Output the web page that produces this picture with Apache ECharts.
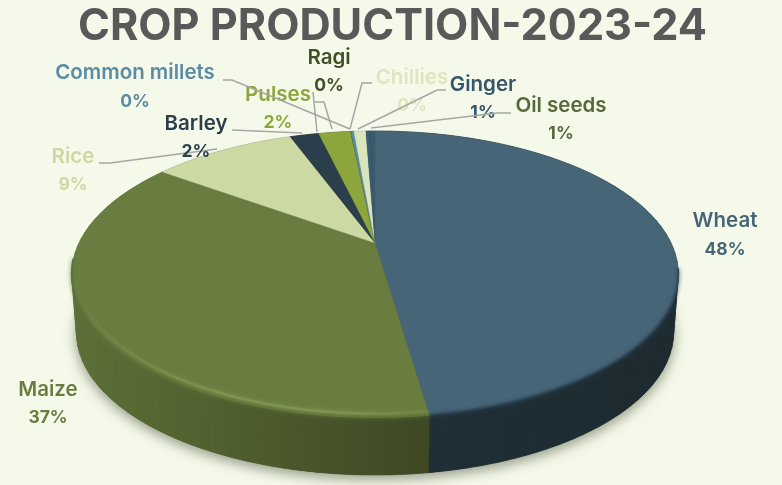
<!DOCTYPE html>
<html><head><meta charset="utf-8">
<style>html,body{margin:0;padding:0;background:#f5f9e9}#c{width:782px;height:485px}</style>
<script src="https://cdn.jsdelivr.net/npm/echarts@6/dist/echarts.min.js"></script>
</head><body><div id="c"></div>
<script>
// Data
const categories = ['Wheat','Maize','Rice','Barley','Pulses','Ragi','Common millets','Chillies','Ginger','Oil seeds'];
const values     = [47.7, 37.3, 9.4, 1.9, 2.1, 0.02, 0.2, 0.78, 0.3, 0.3];
const percentLabels = ['48%','37%','9%','2%','2%','0%','0%','0%','1%','1%'];
// Styles
const faceColors = ['#466577','#6a7d41','#cdd9a2','#2a3f4b','#8ca63c','#434f28','#5b8ba5','#dbe5bd','#3a5a6e','#3a5a6e'];
const textColors = ['#466577','#6a7d41','#cdd9a2','#2a3f4b','#8ca63c','#434f28','#5b8ba5','#dde6bf','#35566b','#56693a'];
const wallLeft   = ['#1f3038','#5d7037','#888','#222','#555','#333','#345','#999','#234','#234'];
const wallRight  = ['#1d2a30','#3e4823','#888','#222','#555','#333','#345','#999','#234','#234'];
const edgeColors = ['#30495a','#5f7239'];
// Label layout: [name x, name y, pct x, pct y]
const labelPos = [[725,221,725,250],[48,390,48,418],[73,157,73,185],[196,124,196,152],[278,95,278,123],
  [329,58,329,86],[135,73,135,102],[412,78,412,106],[483,85,483,113],[561,106,561,134]];
// Leader lines of the labels
const leaders = [null,null,[[99,163],[110,163],[217,149]],[[232,130],[302,133]],[[313,92],[317,132]],
  [[315,102],[324,102],[332,129]],[[223,80],[232,80],[350,129]],[[372,83],[362,83],[350,129]],
  [[446,90],[437,90],[358,129]],[[511,113],[497,113],[371,128]]];

// Tilted-disc projection (perspective, pie apex above the ellipse centre)
const APEX_X=375, APEX_Y=243, K=-0.2168, A=136.3, B=296, DEPTH=58, SHRINK=0.985;
const total = values.reduce((a,b)=>a+b,0);
const starts=[]; values.reduce((s,v,i)=>{starts[i]=s;return s+v;},0);
function topPt(t){const u=Math.sin(t),v=-Math.cos(t),d=1+K*v;return [APEX_X+B*u/d,APEX_Y+A*v/d];}
function lowPt(t){const p=topPt(t);return [APEX_X+(p[0]-APEX_X)*SHRINK,p[1]+DEPTH];}
function arc(a,b,fn){const n=Math.max(2,Math.ceil((b-a)/0.01));const r=[];for(let i=0;i<=n;i++)r.push(fn(a+(b-a)*i/n));return r;}
function ang(s){return s/total*Math.PI*2;}

const wallSeries={type:'custom',coordinateSystem:'none',silent:true,z:1,
  data:values.map(v=>[v]),
  renderItem(params,api){
    const i=params.dataIndex,a=ang(starts[i]),b=a+ang(api.value(0));
    const tops=arc(a,b,topPt),lows=arc(a,b,lowPt);
    const xs=tops.map(p=>p[0]),x0=Math.min(...xs),x1=Math.max(...xs);
    const fill={type:'linear',global:true,x:x0,y:0,x2:Math.max(x1,x0+1),y2:0,
      colorStops:[{offset:0,color:wallLeft[i]},{offset:1,color:wallRight[i]}]};
    const children=[];
    const step=5;
    for(let j=0;j<tops.length-1;j+=step){
      const e=Math.min(j+step,tops.length-1);
      children.push({type:'polygon',shape:{points:[tops[j],tops[e],lows[e],lows[j]]},
        style:{fill:fill,stroke:fill,lineWidth:0.6}});
    }
    return {type:'group',children:children};
  }};
const shadowSeries={type:'custom',coordinateSystem:'none',silent:true,z:0,
  data:[[total]],
  renderItem(params,api){
    return {type:'polygon',shape:{points:arc(0,ang(api.value(0)),lowPt)},
      style:{fill:'#39422a',shadowBlur:13,shadowColor:'rgba(60,70,45,0.55)',shadowOffsetY:4,shadowOffsetX:0}};
  }};
const faceSeries={type:'custom',coordinateSystem:'none',silent:true,z:2,
  data:values.map(v=>[v]),
  renderItem(params,api){
    const i=params.dataIndex,a=ang(starts[i]),b=a+ang(api.value(0));
    const c=[{type:'polygon',shape:{points:[[APEX_X,APEX_Y]].concat(arc(a,b,topPt))},
      style:{fill:faceColors[i],stroke:faceColors[i],lineWidth:0.3}}];
    if(edgeColors[i]){
      const ra=Math.max(a,1.75),rb=Math.min(b,4.6);
      c.push({type:'polyline',shape:{points:arc(ra,rb,topPt)},
        style:{fill:null,stroke:edgeColors[i],lineWidth:2,shadowBlur:4,shadowColor:edgeColors[i]}});
      if(i===1){
        const inset=t=>{const p=topPt(t);return [APEX_X+(p[0]-APEX_X)*0.988,p[1]-3.5];};
        c.push({type:'polyline',shape:{points:arc(ra,rb,inset)},
          style:{fill:null,lineWidth:2.5,shadowBlur:5,shadowColor:'#7f9651',
            stroke:{type:'linear',x:1,y:0,x2:0,y2:0,colorStops:[
              {offset:0,color:'rgba(127,150,81,0.2)'},{offset:0.25,color:'rgba(127,150,81,0.9)'},
              {offset:0.6,color:'rgba(127,150,81,0.9)'},{offset:1,color:'rgba(127,150,81,0)'}]}}});
      }
    }
    return {type:'group',children:c};
  }};
const labelSeries={type:'custom',coordinateSystem:'none',silent:true,z:3,
  data:categories.map((n,i)=>[i]),
  renderItem(params){
    const i=params.dataIndex,p=labelPos[i],c=[];
    if(leaders[i])c.push({type:'polyline',shape:{points:leaders[i]},style:{fill:null,stroke:'#a6a6a6',lineWidth:1.5}});
    c.push({type:'text',x:p[0],y:p[1],style:{text:categories[i],fill:textColors[i],font:'600 20.5px Inter',align:'center',verticalAlign:'middle'}});
    c.push({type:'text',x:p[2],y:p[3],style:{text:percentLabels[i],fill:textColors[i],font:'700 17.5px Inter',align:'center',verticalAlign:'middle'}});
    return {type:'group',children:c};
  }};

const chart=echarts.init(document.getElementById('c'),null,{renderer:'canvas'});
chart.setOption({
  animation:false,backgroundColor:'#f5f9e9',
  title:{text:'CROP PRODUCTION-2023-24',left:73,top:-3,
    textStyle:{color:'#595959',fontFamily:'Inter',fontWeight:700,fontSize:43.2,lineHeight:50}},
  series:[shadowSeries,wallSeries,faceSeries,labelSeries]
});
</script></body></html>
